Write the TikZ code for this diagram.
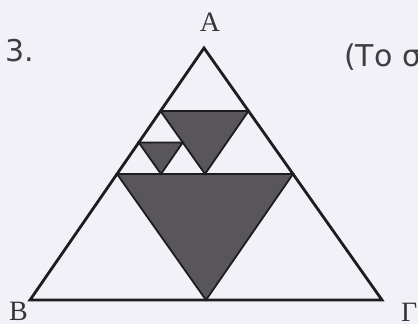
\documentclass[tikz,border=0pt]{standalone}
\usepackage{fontspec}
\setmainfont{Liberation Serif}
\newfontfamily\sansf{DejaVu Sans}
\usetikzlibrary{calc}
\definecolor{bgc}{RGB}{241,241,247}
\definecolor{shadec}{RGB}{88,86,90}
\definecolor{linec}{RGB}{30,28,32}
\tikzset{
  outer/.style={draw=linec, line width=2.8pt, line join=miter},
  inner/.style={draw=linec, fill=shadec, line width=1.8pt, line join=miter},
  vlabel/.style={font=\fontsize{28}{28}\selectfont, text=linec!90, inner sep=0pt},
  sanslabel/.style={font=\sansf\fontsize{30}{30}\selectfont, text=linec!85, inner sep=0pt}
}
\begin{document}
\begin{tikzpicture}[x=1pt,y=-1pt]
  \fill[bgc] (0,0) rectangle (418,324);
  \useasboundingbox (0,0) rectangle (418,324);
  % main vertices
  \coordinate (A) at (204,48);
  \coordinate (B) at (30,300);
  \coordinate (G) at (382,300);
  % midpoints
  \coordinate (mAB) at ($(A)!0.5!(B)$);
  \coordinate (mAG) at ($(A)!0.5!(G)$);
  \coordinate (mBG) at ($(B)!0.5!(G)$);
  % level 2 (upper triangle A, mAB, mAG)
  \coordinate (p1) at ($(A)!0.5!(mAB)$);
  \coordinate (p2) at ($(A)!0.5!(mAG)$);
  \coordinate (p3) at ($(mAB)!0.5!(mAG)$);
  % level 3 (triangle p1, mAB, p3)
  \coordinate (q1) at ($(p1)!0.5!(mAB)$);
  \coordinate (q2) at ($(p1)!0.5!(p3)$);
  \coordinate (q3) at ($(mAB)!0.5!(p3)$);
  % shaded triangles
  \filldraw[inner] (mAB) -- (mAG) -- (mBG) -- cycle;
  \filldraw[inner] (p1) -- (p2) -- (p3) -- cycle;
  \filldraw[inner] (q1) -- (q2) -- (q3) -- cycle;
  % outer triangle
  \draw[outer] (A) -- (B) -- (G) -- cycle;
  % labels
  \node[vlabel] (lA) at (210,22) {A};
  \node[vlabel, anchor=north west] (lB) at (9,302) {B};
  \node[vlabel, anchor=north west] (lG) at (401,303) {Γ};
  \node[sanslabel, anchor=west] (n3) at (5,51) {3.};
  \node[sanslabel, anchor=west] (txt) at (344,57) {(Το σ};
\end{tikzpicture}
\end{document}
